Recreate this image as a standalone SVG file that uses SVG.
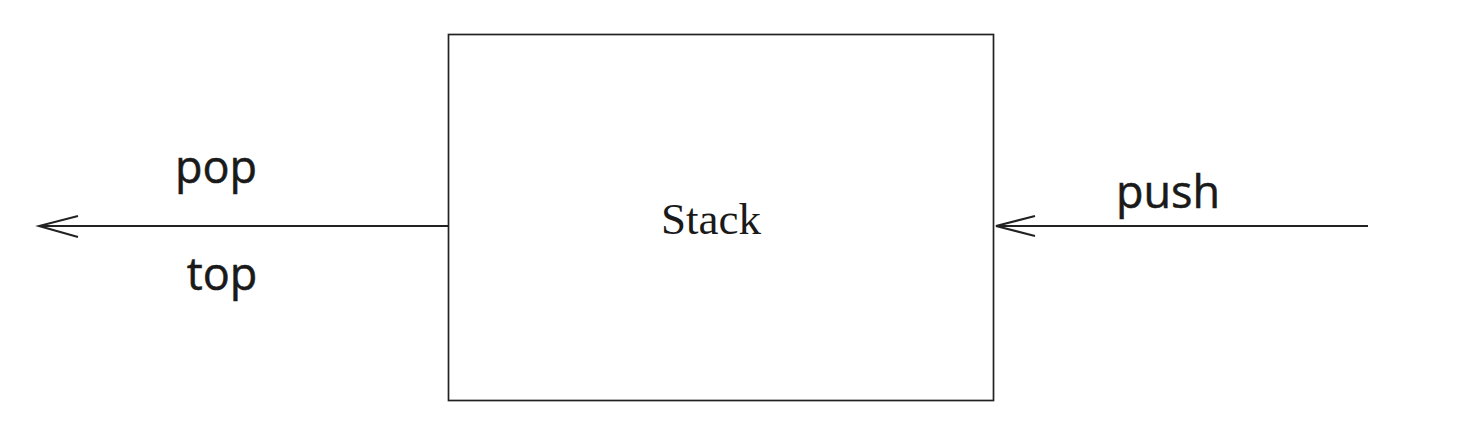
<svg xmlns="http://www.w3.org/2000/svg" width="1476" height="440" viewBox="0 0 1476 440">
<style>
.box{fill:none;stroke:#222;stroke-width:1.7}
.conn{fill:none;stroke:#222;stroke-width:2}
.head{fill:none;stroke:#222;stroke-width:2;stroke-linejoin:miter}
.lbl{font-family:"Open Sans","DejaVu Sans",sans-serif;font-size:45px;fill:#1a1a1a;stroke:#1a1a1a;stroke-width:0.5}
.title{font-family:"Liberation Serif",serif;font-size:45px;fill:#1a1a1a}
</style>
<rect width="1476" height="440" fill="#fff"/>
<g id="stack">
<rect class="box" x="448.5" y="34.5" width="545" height="366"/>
<text class="title" x="711" y="234" text-anchor="middle">Stack</text>
</g>
<g id="connectors">
<g id="pop-top">
<line class="conn" x1="448" y1="226" x2="40" y2="226"/>
<polyline class="head" points="78,216 39,226 78,237"/>
<text class="lbl" x="216" y="183" text-anchor="middle">pop</text>
<text class="lbl" x="222" y="290" text-anchor="middle">top</text>
</g>
<g id="push">
<line class="conn" x1="1368" y1="226" x2="997" y2="226"/>
<polyline class="head" points="1035,216 996,226 1035,236"/>
<text class="lbl" x="1168" y="208" text-anchor="middle">push</text>
</g>
</g>
</svg>
